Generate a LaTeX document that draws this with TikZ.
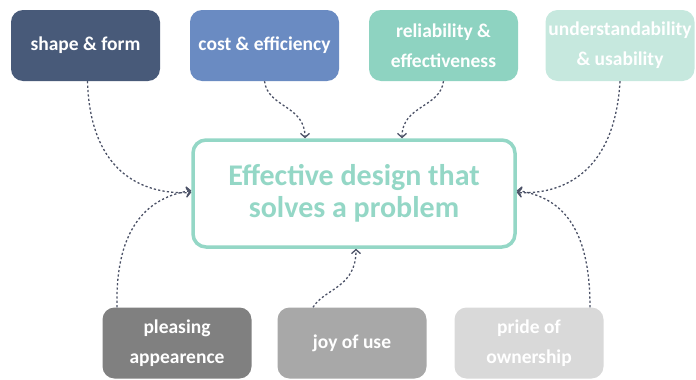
\documentclass[tikz,border=0pt]{standalone}
\usepackage{fontspec}
\setmainfont{Carlito}
\usetikzlibrary{arrows.meta}

\definecolor{shapeblue}{HTML}{485A79}
\definecolor{costblue}{HTML}{6A8BC2}
\definecolor{reliteal}{HTML}{8ED3C1}
\definecolor{underteal}{HTML}{C6E8DE}
\definecolor{hubteal}{HTML}{94D7C6}
\definecolor{pleasegray}{HTML}{808080}
\definecolor{joygray}{HTML}{A8A8A8}
\definecolor{pridegray}{HTML}{D9D9D9}
\definecolor{linkgray}{HTML}{4B5166}

\tikzset{
  box/.style={rounded corners=12pt, minimum width=149pt, minimum height=71pt,
    text=white, align=center, inner sep=0pt,
    font=\bfseries\fontsize{19.5}{30}\selectfont},
  hub/.style={draw=hubteal, line width=3.5pt, rounded corners=13pt,
    minimum width=322pt, minimum height=107pt, text=hubteal, align=center,
    font=\bfseries\fontsize{30}{32}\selectfont},
  link/.style={linkgray, line width=1.3pt, dash pattern=on 2.2pt off 2.2pt,
    -{Straight Barb[length=4pt,width=9pt,line width=1.3pt]}}
}

\begin{document}
\begin{tikzpicture}[x=1pt, y=-1pt]
        \useasboundingbox (0,0) rectangle (696,380);

        % top row
        \node [box, fill=shapeblue] (sf) at (85.5,45.5) {shape \& form};
        \node [box, fill=costblue] (ce) at (264.5,45.5) {cost \& efficiency};
        \node [box, fill=reliteal] (re) at (443.5,45.5) {reliability \&\\effectiveness};
        \node [box, fill=underteal] (uu) at (620,45.5) {understandability\\\& usability};

        % centre
        \node [hub, fill=white] (hub) at (354,193.5) {Effective design that\\solves a problem};

        % bottom row
        \node [box, fill=pleasegray] (pa) at (177,343) {pleasing\\appearence};
        \node [box, fill=joygray] (jo) at (352,343) {joy of use};
        \node [box, fill=pridegray] (po) at (529,343) {pride of\\ownership};

        % connectors
        \draw [link] ([xshift=2]sf.south) .. controls (90,170) and (140,195) .. ([yshift=1]hub.west);
        \draw [link] (ce.south) .. controls (268,108) and (305,105) .. ([xshift=-49]hub.north);
        \draw [link] (re.south) .. controls (440,108) and (402,105) .. ([xshift=48]hub.north);
        \draw [link] (uu.south) .. controls (615,170) and (565,195) .. ([yshift=1]hub.east);
        \draw [link] ([xshift=-60]pa.north) .. controls (115,225) and (150,197) .. ([yshift=3]hub.west);
        \draw [link] ([xshift=-39]jo.north) .. controls (325,288) and (356,288) .. ([xshift=2]hub.south);
        \draw [link] ([xshift=61]po.north) .. controls (590,225) and (560,197) .. ([yshift=3]hub.east);

\end{tikzpicture}
\end{document}
